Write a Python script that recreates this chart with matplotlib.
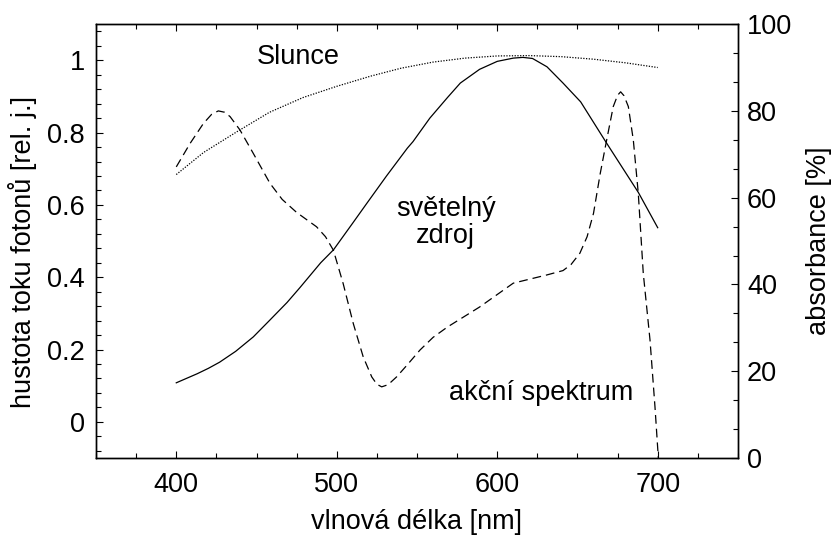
import numpy as np
import matplotlib
matplotlib.use("Agg")
import matplotlib.pyplot as plt
from matplotlib.ticker import MultipleLocator

plt.rcParams['font.family'] = ['Liberation Sans', 'DejaVu Sans']

# Slunce (dotted, left axis)
sun_x = [400, 417, 438, 458, 479, 500, 521, 540, 560, 580, 600, 620, 640, 660, 680, 700]
sun_y = [0.684, 0.745, 0.803, 0.856, 0.897, 0.928, 0.956, 0.978, 0.995, 1.006, 1.012, 1.013, 1.010, 1.003, 0.993, 0.980]

# svetelny zdroj (solid, left axis)
src_x = [400, 413, 420, 427, 437, 448, 458, 469, 477, 490, 498, 510, 519, 531, 544, 547.5, 558, 569,
         577, 589, 600, 610, 616, 622, 631, 641, 652, 668, 688, 700]
src_y = [0.108, 0.133, 0.148, 0.165, 0.195, 0.235, 0.280, 0.330, 0.371, 0.440, 0.476, 0.550, 0.606,
         0.680, 0.757, 0.775, 0.840, 0.897, 0.937, 0.975, 0.997, 1.006, 1.008, 1.005, 0.982, 0.937,
         0.885, 0.772, 0.634, 0.537]

# akcni spektrum (dashed, right axis, %)
act_x = [400, 408.6, 416.9, 422, 426.2, 430, 433.5, 439.7, 448, 458.4, 466, 475, 487.4, 493, 497.9,
         504, 510.3, 516.5, 521.8, 525, 528, 532, 537.3, 544, 551.9, 560, 569, 589, 610, 631,
         641, 646, 651.5, 656, 660, 664.2, 668.2, 672.3, 675, 676.9, 679, 681.7, 684.8, 687.9,
         691, 695.2, 698.3, 700.4]
act_y = [67.1, 72.5, 77.1, 79.2, 80, 79.7, 78.7, 75.6, 70.2, 63.3, 59.6, 56.6, 53.3, 51, 47.9,
         40.2, 31, 23.3, 18.7, 17, 16.4, 16.9, 18.7, 21.5, 24.9, 27.8, 30.2, 34.8, 40.3, 42.2,
         43.2, 44.6, 47.2, 51, 56.4, 65.6, 73.3, 81, 83.6, 84.4, 83.5, 81, 73.3, 61,
         42.6, 27.2, 11.8, 0]

FS = 19.5

fig = plt.figure(figsize=(8.38, 5.35), dpi=100)
ax = fig.add_axes([0.1146, 0.1439, 0.766, 0.811])
ax2 = ax.twinx()

ax.plot(sun_x, sun_y, color='black', lw=0.9, linestyle=(0, (1, 1.2)))
ax.plot(src_x, src_y, color='black', lw=0.9)
ax2.plot(act_x, act_y, color='black', lw=0.9, linestyle=(0, (7, 4)))

ax.set_xlim(350, 750)
ax.set_ylim(-0.1, 1.1)
ax2.set_ylim(0, 100)

ax.xaxis.set_major_locator(MultipleLocator(100))
ax.xaxis.set_minor_locator(MultipleLocator(25))
ax.yaxis.set_minor_locator(MultipleLocator(0.04))
ax.set_yticks([0, 0.2, 0.4, 0.6, 0.8, 1.0])
ax.set_yticklabels(['0', '0.2', '0.4', '0.6', '0.8', '1'])
ax2.yaxis.set_major_locator(MultipleLocator(20))
ax2.yaxis.set_minor_locator(MultipleLocator(20 / 3))

ax.tick_params(which='both', direction='in', top=True, right=False, labelsize=FS)
ax.tick_params(axis='x', pad=10)
ax.tick_params(axis='y', pad=8)
ax.tick_params(which='major', length=5, width=0.8)
ax.tick_params(which='minor', length=3.5, width=0.8)
ax2.tick_params(which='both', direction='in', labelsize=FS, pad=6.5)
ax2.tick_params(which='major', length=5, width=0.8)
ax2.tick_params(which='minor', length=3.5, width=0.8)

for a in (ax, ax2):
    for s in a.spines.values():
        s.set_linewidth(1.0)

ax.set_xlabel('vlnová délka [nm]', fontsize=FS, labelpad=8)
ax.set_ylabel('hustota toku fotonů [rel. j.]', fontsize=FS)
ax.yaxis.set_label_coords(-0.092, 0.475)
ax2.set_ylabel('absorbance [%]', fontsize=FS, labelpad=10)

ax.text(476, 1.008, 'Slunce', fontsize=FS, ha='center', va='center')
ax.text(568, 0.55, 'světelný\nzdroj', fontsize=FS, ha='center', va='center', linespacing=1.05)
ax.text(627.5, 0.08, 'akční spektrum', fontsize=FS, ha='center', va='center')

fig.savefig('out.png', dpi=100)
